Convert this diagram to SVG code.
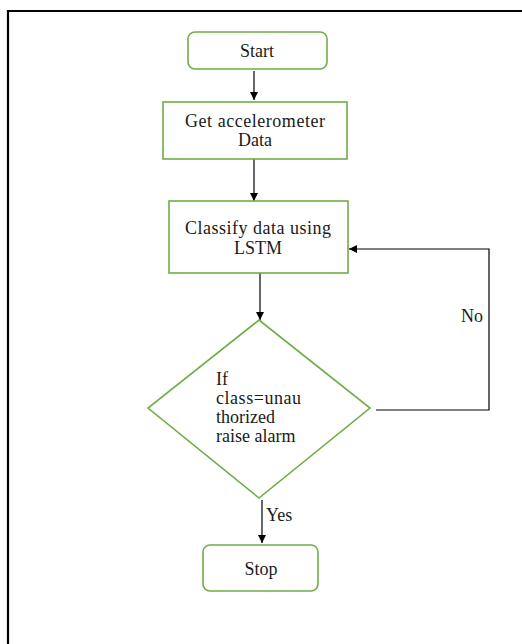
<svg xmlns="http://www.w3.org/2000/svg" width="522" height="644" viewBox="0 0 522 644">
<defs>
<style>
.node{fill:#fff;stroke:#70AD47;stroke-width:1.6}
.lbl{font-size:18px;fill:#1a1a1a}
.mid{text-anchor:middle}
.ln{fill:none;stroke:#000;stroke-width:1.2}
</style>
<marker id="ah" viewBox="0 0 10 10" refX="10" refY="5" markerWidth="8" markerHeight="8" markerUnits="userSpaceOnUse" orient="auto">
<path d="M0,0 L10,5 L0,10 Z" fill="#000"/>
</marker>
</defs>
<rect width="522" height="644" fill="#fff"/>
<path d="M8,644 V11 H522" fill="none" stroke="#000" stroke-width="2.2"/>
<g id="connectors">
<line class="ln" x1="254" y1="71" x2="254" y2="100" marker-end="url(#ah)"/>
<line class="ln" x1="254" y1="159" x2="254" y2="201" marker-end="url(#ah)"/>
<line class="ln" x1="260" y1="273" x2="260" y2="320" marker-end="url(#ah)"/>
<polyline class="ln" points="376,410 489,410 489,249 349,249" marker-end="url(#ah)"/>
<text class="lbl" x="461" y="322" style="font-family:'Liberation Serif',serif">No</text>
<line class="ln" x1="262" y1="500" x2="262" y2="543" marker-end="url(#ah)"/>
<text class="lbl" x="266" y="521" style="font-family:'Liberation Serif',serif">Yes</text>
</g>
<g id="start">
<rect class="node" x="188" y="32" width="139" height="37" rx="7"/>
<text class="lbl mid" x="257" y="57" style="font-family:'Liberation Serif',serif">Start</text>
</g>
<g id="get-data">
<rect class="node" x="163" y="102" width="184" height="57"/>
<text class="lbl mid" x="255" y="127" style="font-family:'Liberation Serif',serif" textLength="140">Get accelerometer</text>
<text class="lbl mid" x="255" y="146" style="font-family:'Liberation Serif',serif">Data</text>
</g>
<g id="classify">
<rect class="node" x="169" y="201" width="179" height="72"/>
<text class="lbl mid" x="258" y="234" style="font-family:'Liberation Serif',serif" textLength="146">Classify data using</text>
<text class="lbl mid" x="258" y="254" style="font-family:'Liberation Serif',serif">LSTM</text>
</g>
<g id="decision">
<polygon class="node" points="259,320 370,408 259,498 148,408"/>
<text class="lbl" x="216" y="385" style="font-family:'Liberation Serif',serif">If</text>
<text class="lbl" x="216" y="404" style="font-family:'Liberation Serif',serif" textLength="85">class=unau</text>
<text class="lbl" x="216" y="423" style="font-family:'Liberation Serif',serif">thorized</text>
<text class="lbl" x="216" y="442" style="font-family:'Liberation Serif',serif">raise alarm</text>
</g>
<g id="stop">
<rect class="node" x="203" y="545" width="115" height="46" rx="7"/>
<text class="lbl mid" x="261" y="575" style="font-family:'Liberation Serif',serif">Stop</text>
</g>
</svg>
